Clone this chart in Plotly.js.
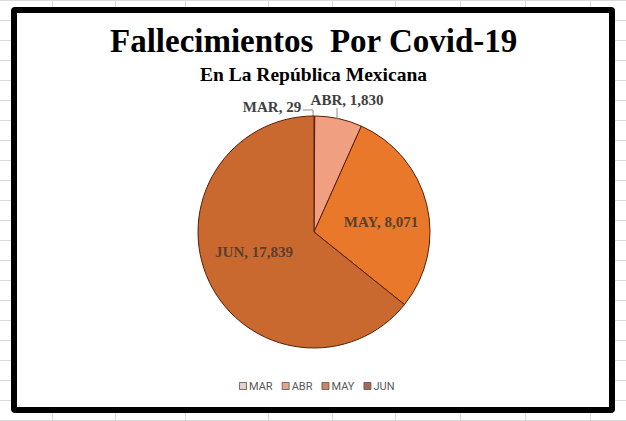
<!DOCTYPE html>
<html>
<head>
<meta charset="utf-8">
<script src="https://cdn.plot.ly/plotly-3.0.1.min.js"></script>
<style>
  html, body { margin:0; padding:0; }
  body { width:626px; height:421px; position:relative; overflow:hidden; background:#fff; }
  #grid { position:absolute; left:0; top:0; width:626px; height:421px; }
  #frame {
    position:absolute; left:11px; top:7px; width:592px; height:394px;
    border:6px solid #000; border-radius:4px; background:#fff;
  }
  #chart { position:absolute; left:0; top:0; width:626px; height:421px; }
</style>
</head>
<body>
<svg id="grid" width="626" height="421"></svg>
<div id="frame"></div>
<div id="chart"></div>
<script>
// ---- data ----
const months = ['MAR', 'ABR', 'MAY', 'JUN'];
const deaths = [29, 1830, 8071, 17839];
const sliceColors = ['#f2b39a', '#f0a080', '#e9782b', '#c9692f'];
const legendColors = ['#e3d3d0', '#dba894', '#c9876a', '#a9675a'];
const labelPositions = ['outside', 'outside', 'inside', 'inside'];
const titleText = 'Fallecimientos  Por Covid-19';
const subtitleText = 'En La República Mexicana';

// spreadsheet-like background grid
(function () {
  const svg = document.getElementById('grid');
  const cols = [52, 115, 185, 268, 332, 395, 460, 525, 590];
  let html = '';
  for (let y = 0; y <= 421; y += 20) html += `<line x1="0" x2="626" y1="${y+0.5}" y2="${y+0.5}" stroke="#d9d9d9" stroke-width="1"/>`;
  cols.forEach(x => html += `<line x1="${x+0.5}" x2="${x+0.5}" y1="0" y2="421" stroke="#d9d9d9" stroke-width="1"/>`);
  svg.innerHTML = html;
})();

const W = 626, H = 421;
const cx0 = 314, cy0 = 232, r0 = 116;
const serif = 'Liberation Serif, Times New Roman, serif';

const trace = {
  type: 'pie',
  labels: months,
  values: deaths,
  sort: false,
  direction: 'clockwise',
  rotation: 0,
  marker: { colors: sliceColors, line: { color: '#5a1e08', width: 1 } },
  texttemplate: '%{label}, %{value:,}',
  textposition: labelPositions,
  insidetextorientation: 'horizontal',
  textfont: { family: serif, size: 15, color: '#404040', weight: 'bold' },
  insidetextfont: { family: serif, size: 15, color: '#5a3f30', weight: 'bold' },
  outsidetextfont: { family: serif, size: 15, color: '#404040', weight: 'bold' },
  hoverinfo: 'none',
  domain: { x: [(cx0 - r0) / W, (cx0 + r0) / W], y: [1 - (cy0 + r0) / H, 1 - (cy0 - r0) / H] }
};

const layout = {
  width: W, height: H,
  margin: { l: 0, r: 0, t: 0, b: 0 },
  paper_bgcolor: 'rgba(0,0,0,0)',
  plot_bgcolor: 'rgba(0,0,0,0)',
  showlegend: true,
  legend: {
    orientation: 'h', x: 0.5, xanchor: 'center', y: 1 - 386 / H, yanchor: 'middle',
    font: { family: 'Roboto, Liberation Sans, sans-serif', size: 11, color: '#595959' },
    traceorder: 'normal', bgcolor: 'rgba(0,0,0,0)'
  },
  annotations: [
    { text: titleText, xref: 'paper', yref: 'paper', x: 313 / W, y: 1 - 41 / H, xanchor: 'center', yanchor: 'middle', showarrow: false,
      font: { family: serif, size: 33, color: '#000', weight: 'bold' } },
    { text: subtitleText, xref: 'paper', yref: 'paper', x: 313 / W, y: 1 - 74 / H, xanchor: 'center', yanchor: 'middle', showarrow: false,
      font: { family: serif, size: 19.5, color: '#000', weight: 'bold' } }
  ]
};

const SVGNS = 'http://www.w3.org/2000/svg';
function moveCenter(el, tx, ty) {
  const b = el.getBoundingClientRect();
  const dx = tx - (b.left + b.width / 2), dy = ty - (b.top + b.height / 2);
  const prev = el.getAttribute('transform') || '';
  el.setAttribute('transform', `translate(${dx},${dy}) ` + prev);
}

Plotly.newPlot('chart', [trace], layout, { displayModeBar: false, staticPlot: true }).then(gd => {
  // --- labels placed Excel-style, relative to the pie geometry ---
  try {
    const cd = gd.calcdata[0][0];
    const off = gd._fullLayout._size;
    const cx = cd.cx + off.l, cy = cd.cy + off.t, r = cd.r;
    const top = cy - r;
    const slices = gd.querySelectorAll('.pielayer .slice');
    // MAR: left of the top point with a small leader
    const t0 = slices[0].querySelector('.slicetext');
    if (t0) moveCenter(t0, cx - 42, top - 9);
    let l0 = slices[0].querySelector('.textline');
    if (!l0) { l0 = document.createElementNS(SVGNS, 'path'); slices[0].appendChild(l0); }
    l0.setAttribute('d', `M${cx - 11},${top - 6}H${cx - 1}V${top}`);
    l0.setAttribute('style', 'fill:none;stroke:#8c8c8c;stroke-width:1');
    // ABR: above its slice
    const t1 = slices[1].querySelector('.slicetext');
    if (t1) moveCenter(t1, cx + 33, top - 16);
    let l1 = slices[1].querySelector('.textline');
    if (!l1) { l1 = document.createElementNS(SVGNS, 'path'); slices[1].appendChild(l1); }
    const edgeY = cy - Math.sqrt(r * r - 23 * 23);
    l1.setAttribute('d', `M${cx + 23},${top - 8}V${edgeY + 1}`);
    l1.setAttribute('style', 'fill:none;stroke:#8c8c8c;stroke-width:1');
    // inside labels
    const t2 = slices[2].querySelector('.slicetext');
    if (t2) moveCenter(t2, cx + 67, cy - 10);
    const t3 = slices[3].querySelector('.slicetext');
    if (t3) moveCenter(t3, cx - 60, cy + 20);
  } catch (e) { console.log(e); }

  // --- compact Excel-like legend ---
  try {
    const legend = gd.querySelector('.legend');
    const items = legend.querySelectorAll('.traces');
    let x = 0;
    items.forEach((tr, i) => {
      const p = tr.querySelector('.legendpoints path');
      if (p) {
        p.setAttribute('d', 'M-3.5,-3.5H3.5V3.5H-3.5Z');
        p.setAttribute('transform', 'translate(4,0)');
        p.style.fill = legendColors[i];
        p.style.stroke = '#6b4a40';
        p.style.strokeWidth = '0.8px';
      }
      const t = tr.querySelector('.legendtext');
      t.setAttribute('x', 10);
      const tf = tr.getAttribute('transform') || '';
      const m = tf.match(/translate\(\s*([-\d.]+)[ ,]+([-\d.]+)/);
      const y = m ? parseFloat(m[2]) : 0;
      tr.setAttribute('transform', `translate(${x},${y})`);
      const bg = tr.querySelector('.legendtoggle');
      if (bg) bg.setAttribute('width', 0);
      x += 10 + t.getComputedTextLength() + 9;
    });
    let minL = Infinity, maxR = -Infinity;
    items.forEach(tr => { const b = tr.getBoundingClientRect(); minL = Math.min(minL, b.left); maxR = Math.max(maxR, b.right); });
    const dx = 317 - (minL + maxR) / 2;
    const lt = legend.getAttribute('transform') || '';
    legend.setAttribute('transform', `translate(${dx},0) ` + lt);
  } catch (e) { console.log(e); }
});
</script>
</body>
</html>
